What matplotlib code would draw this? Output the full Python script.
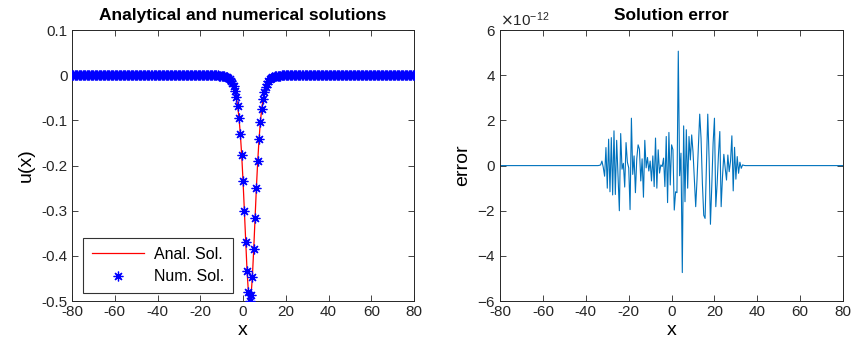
import numpy as np
import matplotlib
matplotlib.use("Agg")
import matplotlib.pyplot as plt
from matplotlib.ticker import ScalarFormatter, FuncFormatter

plt.rcParams['font.family'] = ['Liberation Sans', 'DejaVu Sans']
plt.rcParams['axes.unicode_minus'] = False

# ---- data ----
x_min, x_max, dx = -80.0, 80.0, 0.625
x = np.arange(x_min, x_max + dx / 2, dx)

# solution values over the dip (rest is 0), starting at x = -13.75
u_start = -13.75
u_core = [
    -0.0001, -0.00015, -0.0002, -0.0003, -0.0005, -0.0007, -0.0009,
    -0.0014, -0.0020, -0.0028, -0.0040, -0.0058, -0.0083, -0.0118,
    -0.0169, -0.0241, -0.0343, -0.0485, -0.0682, -0.0951, -0.1308,
    -0.1769, -0.2339, -0.2995, -0.3690, -0.4328, -0.4799, -0.4998,
    -0.4875, -0.4460, -0.3850, -0.3161, -0.2489, -0.1896, -0.1409,
    -0.1028, -0.0740, -0.0527, -0.0373, -0.0263, -0.0184, -0.0129,
    -0.0090, -0.0063, -0.0044, -0.0031, -0.0021, -0.0015, -0.0010,
    -0.0007, -0.0005, -0.0003, -0.0002,
]

# error values (units of 1e-12) over the active region, starting at x = -33.75
err_start = -33.75
err_core = [
    0.01, 0.03, 0.2, -0.08, -0.47, 0.8, -1.0, 1.17,
    -1.16, 1.24, -1.3, 1.54, -1.28, 1.12, -0.5, -2.0,
    1.42, -0.16, 0.1, -0.95, 1.02, 0.15, -0.1, -1.95,
    2.1, -0.39, 0.43, -1.2, 0.3, 0.92, 0.73, -0.68,
    0.3, -1.4, 1.12, -0.1, 0.36, -0.24, 0.2, -0.68,
    0.43, -0.93, 1.22, -1.0, 0.7, -0.33, 0.03, -0.04,
    0.33, -0.93, 1.29, -1.64, 1.47, -0.86, 0.92, 0.7,
    -1.97, -1.16, -1.2, 5.07, -0.45, 0.55, -4.74, 1.76,
    -1.6, 1.59, -1.0, 1.29, 0.25, 1.36, 0.6, -0.6,
    -1.82, -0.6, 0.9, 2.28, 1.2, -0.8, -2.2, -2.34,
    0.0, 2.28, 0.3, -2.6, -0.9, 1.0, 2.1, -1.82,
    -0.8, 0.5, 1.51, -1.82, -0.5, 0.5, -0.1, -0.64,
    0.47, -0.27, 0.2, 1.32, -1.12, 0.81, -0.6, 0.4,
    -0.34, 0.15, -0.12, 0.03, 0.01,
]
err_scale = 1e-12

x_ticks = [-80, -60, -40, -20, 0, 20, 40, 60, 80]
u_ticks = [-0.5, -0.4, -0.3, -0.2, -0.1, 0, 0.1]
e_ticks = [-6e-12, -4e-12, -2e-12, 0, 2e-12, 4e-12, 6e-12]

# ---- assemble full series ----
u = np.zeros_like(x)
i0 = int(round((u_start - x_min) / dx))
u[i0:i0 + len(u_core)] = u_core
err = np.zeros_like(x)
j0 = int(round((err_start - x_min) / dx))
err[j0:j0 + len(err_core)] = np.array(err_core) * err_scale

# ---- figure ----
fig = plt.figure(figsize=(8.52, 3.45), dpi=100)
ax1 = fig.add_axes([0.0845, 0.1275, 0.4015, 0.785])
ax2 = fig.add_axes([0.587, 0.1275, 0.4025, 0.785])

dark = '#262626'

def style(ax):
    ax.tick_params(direction='in', top=True, right=True, length=4, width=0.6,
                   labelsize=11, colors=dark, pad=3)
    for s in ax.spines.values():
        s.set_linewidth(0.7)
        s.set_color(dark)

ax1.plot(x, u, color='red', lw=0.9, label='Anal. Sol.', zorder=2)
ax1.plot(x, u, linestyle='none', marker=(8, 2, 0), markersize=7,
         markeredgewidth=0.9, color='#0000FF', label='Num. Sol.', zorder=3)
ax1.set_xlim(-80, 80)
ax1.set_ylim(-0.5, 0.1)
ax1.set_xticks(x_ticks)
ax1.set_yticks(u_ticks)
ax1.yaxis.set_major_formatter(FuncFormatter(lambda v, p: '%g' % round(v, 6)))
ax1.set_title('Analytical and numerical solutions', fontsize=12.5,
              fontweight='bold', pad=7)
ax1.set_xlabel('x', fontsize=14, labelpad=2)
ax1.set_ylabel('u(x)', fontsize=14, labelpad=5)
style(ax1)
leg = ax1.legend(loc='lower left', bbox_to_anchor=(0.032, 0.03), fontsize=11.5,
                 frameon=True, fancybox=False, edgecolor='black',
                 handlelength=3.3, handletextpad=0.6, borderpad=0.55,
                 borderaxespad=0.0, labelspacing=0.45)
leg.get_frame().set_linewidth(0.8)

ax2.plot(x, err, color='#0072BD', lw=0.8)
ax2.set_xlim(-80, 80)
ax2.set_ylim(-6e-12, 6e-12)
ax2.set_xticks(x_ticks)
ax2.set_yticks(e_ticks)
fmt = ScalarFormatter(useMathText=True)
fmt.set_powerlimits((0, 0))
ax2.yaxis.set_major_formatter(fmt)
ax2.yaxis.get_offset_text().set_fontsize(11)
ax2.yaxis.get_offset_text().set_color(dark)
ax2.set_title('Solution error', fontsize=12.5, fontweight='bold', pad=7)
ax2.set_xlabel('x', fontsize=14, labelpad=2)
ax2.set_ylabel('error', fontsize=14, labelpad=4)
style(ax2)

fig.savefig('out.png', dpi=100)
